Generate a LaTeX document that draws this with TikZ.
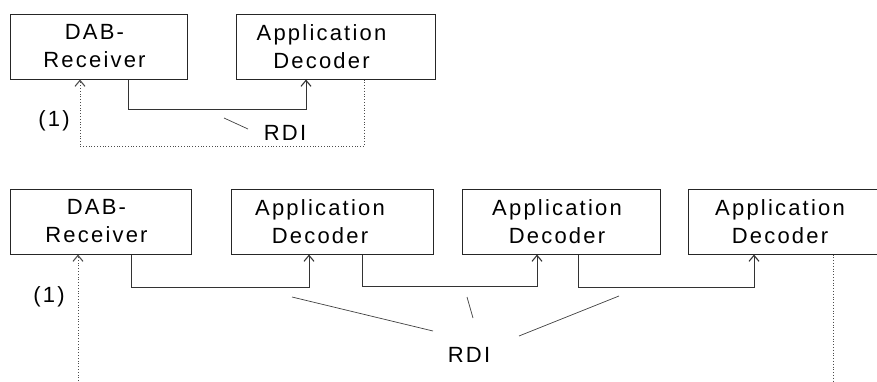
\documentclass[tikz,border=0pt]{standalone}
\usepackage{fontspec}
\setmainfont{Liberation Sans}[LetterSpace=10]
\usepackage{tikz}
\usetikzlibrary{arrows.meta,positioning}
\tikzset{
  unit/.style={draw=black!85, line width=1pt, inner sep=0pt, minimum height=65pt},
  caption/.style={align=center, inner sep=0pt},
  flow/.style={-{Straight Barb[length=6pt,width=10pt,line width=1.1pt]}, line width=0.8pt, draw=black!80},
  back/.style={-{Straight Barb[length=6pt,width=10pt,line width=1.1pt]}, line width=0.8pt, dotted, draw=black!70},
  tail/.style={line width=0.8pt, dotted, draw=black!70},
  lead/.style={line width=0.7pt, draw=black!75},
  tag/.style={inner sep=0pt}
}

\begin{document}
\begin{tikzpicture}[x=1pt, y=-1pt, font=\fontsize{22}{28}\selectfont]
\useasboundingbox (0,0) rectangle (877,381);
% single decoder
\node[unit, minimum width=177pt, label={[caption, xshift=-4pt]center:DAB-\\Receiver}] (rx1) at (98.5,46.5) {};
\node[unit, minimum width=199pt, label={[caption, xshift=-14pt]center:Application\\Decoder}] (dec1) at (335.5,46.5) {};
\draw[flow] ([xshift=29.5pt]rx1.south) -- ++(0,30) -| ([xshift=-29.5pt]dec1.south);
\draw[back] ([xshift=28.5pt]dec1.south) -- ++(0,67) -| ([xshift=-18.5pt]rx1.south);
\node[tag] (one1) at (54,121) {(1)};
\node[tag] (rdi1) at (285,133) {RDI};
\coordinate (p1) at (224,118);
\draw[lead] (p1) -- (248,129);

% chain of decoders
\node[unit, minimum width=181pt, label={[caption, xshift=-4pt]center:DAB-\\Receiver}] (rx2) at (100.5,221.5) {};
\node[unit, minimum width=202pt, label={[caption, xshift=-12pt]center:Application\\Decoder}] (dec2) at (332,221.5) {};
\node[unit, minimum width=198pt, label={[caption, xshift=-4pt]center:Application\\Decoder}] (dec3) at (561,221.5) {};
\node[unit, minimum width=212pt, label={[caption, xshift=-14pt]center:Application\\Decoder}] (dec4) at (794,221.5) {};
\draw[flow] ([xshift=30.5pt]rx2.south) -- ++(0,33) -| ([xshift=-23pt]dec2.south);
\draw[flow] ([xshift=30pt]dec2.south) -- ++(0,32) -| ([xshift=-24pt]dec3.south);
\draw[flow] ([xshift=17pt]dec3.south) -- ++(0,33) -| ([xshift=-40pt]dec4.south);
\coordinate (in2) at (78,381);
\coordinate (out2) at (833,381);
\draw[back] (in2) -- ([xshift=-22.5pt]rx2.south);
\draw[tail] ([xshift=39pt]dec4.south) -- (out2);
\node[tag] (one2) at (49,297) {(1)};
\node[tag] (rdi2) at (469,355) {RDI};
\coordinate (q1) at (292,297);
\coordinate (q2) at (467,297);
\coordinate (q3) at (619,296);
\draw[lead] (q1) -- (433,331);
\draw[lead] (q2) -- (473,318);
\draw[lead] (q3) -- (519,336);
\end{tikzpicture}
\end{document}
